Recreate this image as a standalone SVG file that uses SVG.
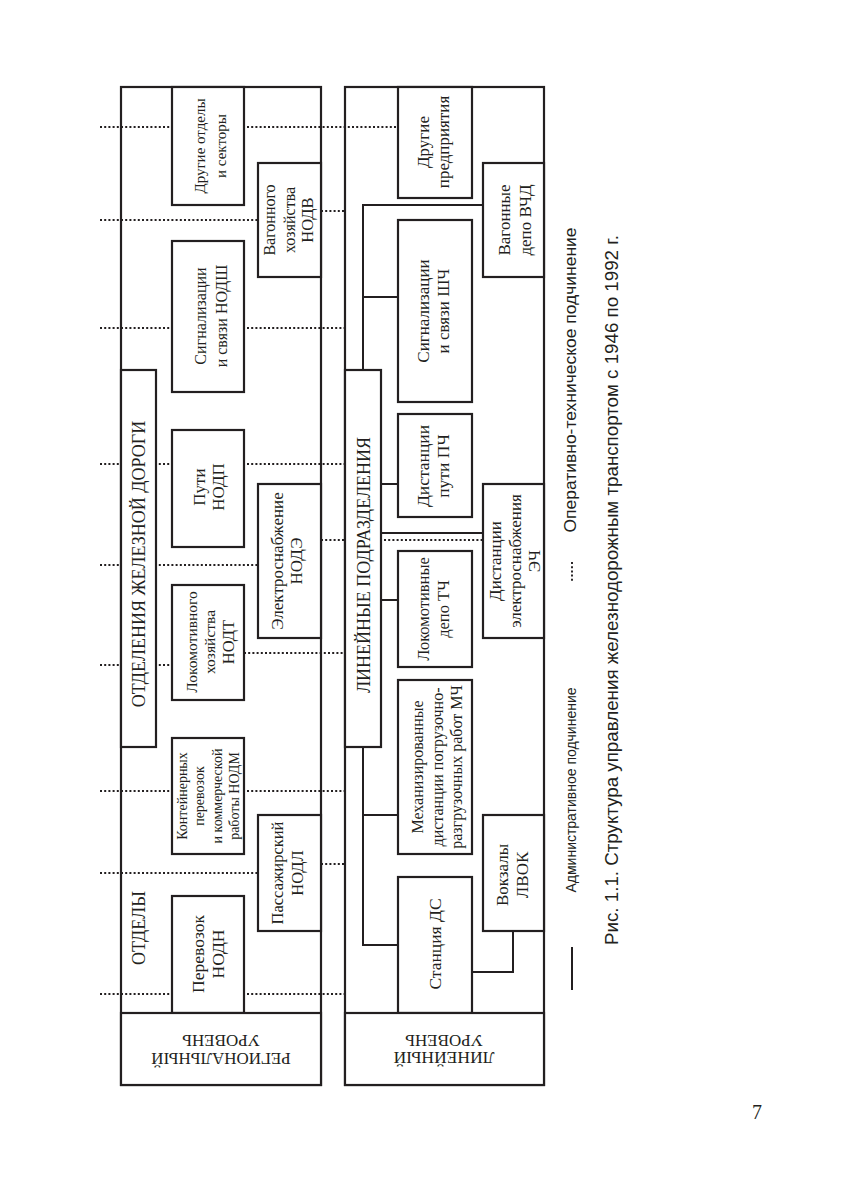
<svg xmlns="http://www.w3.org/2000/svg" width="857" height="1182" viewBox="0 0 857 1182">
<style>
.frame{fill:none;stroke:#231f20;stroke-width:2.2}
.box{fill:#fff;stroke:#231f20;stroke-width:2.2}
.conn{fill:none;stroke:#231f20;stroke-width:2}
.dot{fill:none;stroke:#231f20;stroke-width:1.9;stroke-dasharray:2 2.2}
.t{font-family:"Liberation Serif","Times New Roman",serif;fill:#231f20;text-anchor:middle;dominant-baseline:central}
.s{font-family:"Liberation Sans",Arial,sans-serif;fill:#231f20;text-anchor:middle;dominant-baseline:central}
</style>
<rect x="0" y="0" width="857" height="1182" fill="#fff"/>

<g id="frames">
<rect class="frame" x="121" y="87" width="200" height="998"/>
<rect class="frame" x="345" y="87" width="199" height="998"/>
</g>

<g id="connectors">
<g id="dotted">
<path class="dot" d="M100,127H398"/>
<path class="dot" d="M100,220H258"/>
<path class="dot" d="M321,211H345"/>
<path class="dot" d="M100,328H345"/>
<path class="dot" d="M100,464H345"/>
<path class="dot" d="M100,565H258"/>
<path class="dot" d="M321,540H483"/>
<path class="dot" d="M100,665H172"/>
<path class="dot" d="M244,653H345"/>
<path class="dot" d="M100,791H345"/>
<path class="dot" d="M100,873H258"/>
<path class="dot" d="M321,864H345"/>
<path class="dot" d="M100,994H345"/>
</g>
<g id="solid">
<path class="conn" d="M363,370V205H483"/>
<path class="conn" d="M363,297H398"/>
<path class="conn" d="M381,484H398"/>
<path class="conn" d="M381,533H483"/>
<path class="conn" d="M381,600H398"/>
<path class="conn" d="M363,747V945H398"/>
<path class="conn" d="M363,815H398"/>
<path class="conn" d="M472,972H513V931"/>
</g>
</g>

<!-- Regional level -->
<g id="lbl_otdely">
<text class="t" font-size="18" transform="translate(139,928) rotate(-90)">ОТДЕЛЫ</text>
</g>
<g id="n_drugie_otdely">
<rect class="box" x="172" y="87" width="72" height="118"/>
<text class="t" font-size="15" transform="translate(200,146) rotate(-90)">Другие отделы</text>
<text class="t" font-size="15" transform="translate(221,146) rotate(-90)">и секторы</text>
</g>
<g id="n_nodv">
<rect class="box" x="258" y="163" width="63" height="114"/>
<text class="t" font-size="16" transform="translate(269.5,220) rotate(-90)">Вагонного</text>
<text class="t" font-size="16" transform="translate(289,220) rotate(-90)">хозяйства</text>
<text class="t" font-size="16.5" transform="translate(307,220) rotate(-90)">НОДВ</text>
</g>
<g id="n_nodsh">
<rect class="box" x="172" y="241" width="72" height="151"/>
<text class="t" font-size="16" transform="translate(200,316) rotate(-90)">Сигнализации</text>
<text class="t" font-size="16" transform="translate(221,316) rotate(-90)">и связи НОДШ</text>
</g>
<g id="n_otd_dorogi">
<rect class="box" x="121" y="370" width="35" height="377"/>
<text class="t" font-size="18" transform="translate(138.5,564) rotate(-90)">ОТДЕЛЕНИЯ ЖЕЛЕЗНОЙ ДОРОГИ</text>
</g>
<g id="n_nodp">
<rect class="box" x="172" y="430" width="72" height="117"/>
<text class="t" font-size="17" transform="translate(199,487) rotate(-90)">Пути</text>
<text class="t" font-size="17" transform="translate(218,487) rotate(-90)">НОДП</text>
</g>
<g id="n_node">
<rect class="box" x="258" y="484" width="63" height="154"/>
<text class="t" font-size="17" transform="translate(277,561) rotate(-90)">Электроснабжение</text>
<text class="t" font-size="17" transform="translate(296,561) rotate(-90)">НОДЭ</text>
</g>
<g id="n_nodt">
<rect class="box" x="172" y="585" width="72" height="115"/>
<text class="t" font-size="15.5" transform="translate(191,642) rotate(-90)">Локомотивного</text>
<text class="t" font-size="15.5" transform="translate(209,642) rotate(-90)">хозяйства</text>
<text class="t" font-size="16.5" transform="translate(228,642) rotate(-90)">НОДТ</text>
</g>
<g id="n_nodm">
<rect class="box" x="172" y="738" width="72" height="116"/>
<text class="t" font-size="14" transform="translate(182,796) rotate(-90)">Контейнерных</text>
<text class="t" font-size="14" transform="translate(199.5,796) rotate(-90)">перевозок</text>
<text class="t" font-size="14" transform="translate(217,796) rotate(-90)">и коммерческой</text>
<text class="t" font-size="14" transform="translate(234,796) rotate(-90)">работы НОДМ</text>
</g>
<g id="n_nodl">
<rect class="box" x="258" y="815" width="63" height="116"/>
<text class="t" font-size="16.5" transform="translate(277,873) rotate(-90)">Пассажирский</text>
<text class="t" font-size="16.5" transform="translate(297,873) rotate(-90)">НОДЛ</text>
</g>
<g id="n_nodn">
<rect class="box" x="172" y="896" width="72" height="117"/>
<text class="t" font-size="17.5" transform="translate(198,954) rotate(-90)">Перевозок</text>
<text class="t" font-size="17.5" transform="translate(218,954) rotate(-90)">НОДН</text>
</g>
<g id="n_level_regional">
<rect class="box" x="121" y="1013" width="200" height="72"/>
<text class="t" font-size="17" transform="translate(221,1040) rotate(180)">УРОВЕНЬ</text>
<text class="t" font-size="17" transform="translate(221,1058) rotate(180)">РЕГИОНАЛЬНЫЙ</text>
</g>

<!-- Line level -->
<g id="n_drugie_pred">
<rect class="box" x="398" y="87" width="74" height="111"/>
<text class="t" font-size="17" transform="translate(423,142) rotate(-90)">Другие</text>
<text class="t" font-size="17" transform="translate(443.5,142) rotate(-90)">предприятия</text>
</g>
<g id="n_vchd">
<rect class="box" x="483" y="163" width="61" height="114"/>
<text class="t" font-size="17" transform="translate(504,220) rotate(-90)">Вагонные</text>
<text class="t" font-size="17" transform="translate(525,220) rotate(-90)">депо ВЧД</text>
</g>
<g id="n_shch">
<rect class="box" x="398" y="220" width="74" height="182"/>
<text class="t" font-size="17" transform="translate(423,311) rotate(-90)">Сигнализации</text>
<text class="t" font-size="17" transform="translate(443,311) rotate(-90)">и связи ШЧ</text>
</g>
<g id="n_lin_podr">
<rect class="box" x="345" y="370" width="36" height="377"/>
<text class="t" font-size="18" transform="translate(363.5,565) rotate(-90)">ЛИНЕЙНЫЕ ПОДРАЗДЕЛЕНИЯ</text>
</g>
<g id="n_pch">
<rect class="box" x="398" y="414" width="74" height="103"/>
<text class="t" font-size="17.5" transform="translate(423,466) rotate(-90)">Дистанции</text>
<text class="t" font-size="17.5" transform="translate(443,466) rotate(-90)">пути ПЧ</text>
</g>
<g id="n_ech">
<rect class="box" x="483" y="484" width="61" height="154"/>
<text class="t" font-size="17" transform="translate(495,561) rotate(-90)">Дистанции</text>
<text class="t" font-size="17" transform="translate(515,561) rotate(-90)">электроснабжения</text>
<text class="t" font-size="17" transform="translate(534,561) rotate(-90)">ЭЧ</text>
</g>
<g id="n_tch">
<rect class="box" x="398" y="551" width="74" height="116"/>
<text class="t" font-size="16.5" transform="translate(423,609) rotate(-90)">Локомотивные</text>
<text class="t" font-size="16.5" transform="translate(443,609) rotate(-90)">депо ТЧ</text>
</g>
<g id="n_mch">
<rect class="box" x="398" y="680" width="74" height="174"/>
<text class="t" font-size="16" transform="translate(417,767) rotate(-90)">Механизированные</text>
<text class="t" font-size="16" transform="translate(437,767) rotate(-90)">дистанции погрузочно-</text>
<text class="t" font-size="16" transform="translate(456,767) rotate(-90)">разгрузочных работ МЧ</text>
</g>
<g id="n_lvok">
<rect class="box" x="483" y="815" width="61" height="116"/>
<text class="t" font-size="17" transform="translate(502.5,875) rotate(-90)">Вокзалы</text>
<text class="t" font-size="17" transform="translate(522.5,875) rotate(-90)">ЛВОК</text>
</g>
<g id="n_ds">
<rect class="box" x="398" y="877" width="74" height="136"/>
<text class="t" font-size="17.5" transform="translate(435,944) rotate(-90)">Станция ДС</text>
</g>
<g id="n_level_line">
<rect class="box" x="345" y="1013" width="199" height="72"/>
<text class="t" font-size="17" transform="translate(444,1040) rotate(180)">УРОВЕНЬ</text>
<text class="t" font-size="17.5" transform="translate(444,1058) rotate(180)">ЛИНЕЙНЫЙ</text>
</g>

<g id="legend">
<path class="conn" d="M572,947V990"/>
<text class="s" font-size="14.5" textLength="205" lengthAdjust="spacingAndGlyphs" transform="translate(571,790) rotate(-90)">Административное подчинение</text>
<path class="dot" d="M572,562V583"/>
<text class="s" font-size="16" textLength="305" lengthAdjust="spacingAndGlyphs" transform="translate(570,380) rotate(-90)">Оперативно-техническое подчинение</text>
</g>

<g id="caption">
<text class="s" font-size="19" textLength="710" lengthAdjust="spacingAndGlyphs" transform="translate(611,590) rotate(-90)">Рис. 1.1. Структура управления железнодорожным транспортом с 1946 по 1992 г.</text>
</g>

<g id="page_number">
<text x="757" y="1119" font-family="'Liberation Serif','Times New Roman',serif" font-size="20" fill="#231f20" text-anchor="middle">7</text>
</g>
</svg>
